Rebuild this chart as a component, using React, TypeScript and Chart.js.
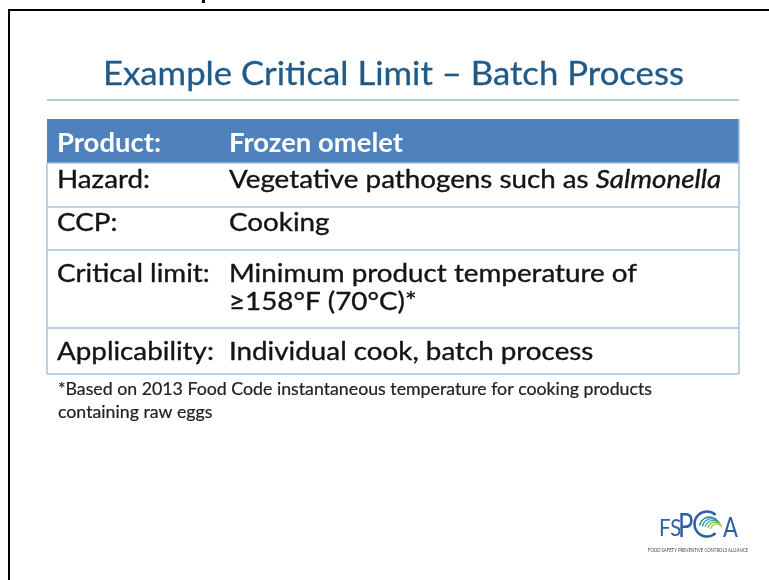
import React, { useEffect, useRef } from "react";
import { Chart, registerables } from "chart.js";

Chart.register(...registerables);

type Seg = { t: string; i?: boolean };

// ---- content ----
const TITLE = "Example Critical Limit – Batch Process";
const HEADER_LABEL = "Product:";
const HEADER_VALUE = "Frozen omelet";
const ROW_LABELS = ["Hazard:", "CCP:", "Critical limit:", "Applicability:"];
const ROW_VALUES: Seg[][][] = [
  [[{ t: "Vegetative pathogens such as " }, { t: "Salmonella", i: true }]],
  [[{ t: "Cooking" }]],
  [[{ t: "Minimum product temperature of" }], [{ t: "≥158°F (70°C)*" }]],
  [[{ t: "Individual cook, batch process" }]],
];
const FOOTNOTE = [
  "*Based on 2013 Food Code instantaneous temperature for cooking products",
  "containing raw eggs",
];
const LOGO_LEFT = "FS";
const LOGO_P = "P";
const LOGO_RIGHT = "A";
const LOGO_TAGLINE = "FOOD SAFETY PREVENTIVE CONTROLS ALLIANCE";

// ---- layout & style ----
const FAMILY = "Lato, 'Open Sans', 'DejaVu Sans', sans-serif";
const W = 769;
const H = 580;
const LAYOUT = {
  titleX: 103,
  titleBase: 85,
  titleW: 581,
  titleSize: 32,
  ruleY: 100,
  tableLeft: 47,
  tableRight: 739,
  labelX: 57,
  valueX: 229,
  rowEdges: [119, 163, 207, 250, 328, 374],
  rowBaselines: [[152], [188], [231], [282, 310], [360]],
  bodySize: 25,
  headSize: 26,
  bodyRefW: 408,
  headRefW: 174,
  footX: 58,
  footBases: [395, 418],
  footW: 594,
  footSize: 17,
};
const COLORS = {
  title: "#1f5a88",
  rule: "#9db7cc",
  header: "#4f81bd",
  border: "#a9c1df",
  text: "#141414",
  foot: "#222222",
  logo: "#2d5fa3",
};

function font(size: number, bold = false, italic = false) {
  return `${italic ? "italic " : ""}${bold ? "bold " : ""}${size}px ${FAMILY}`;
}

function segWidth(ctx: CanvasRenderingContext2D, segs: Seg[], size: number, bold: boolean) {
  let w = 0;
  for (const s of segs) {
    ctx.font = font(size, bold, !!s.i);
    w += ctx.measureText(s.t).width;
  }
  return w;
}

function drawSegs(
  ctx: CanvasRenderingContext2D,
  segs: Seg[],
  x: number,
  y: number,
  size: number,
  bold: boolean,
  sx: number,
  color: string,
  thicken = 0
) {
  let cx = x;
  for (const s of segs) {
    ctx.font = font(size, bold, !!s.i);
    const w = ctx.measureText(s.t).width;
    ctx.save();
    ctx.translate(cx, y);
    ctx.scale(sx, 1);
    ctx.fillStyle = color;
    ctx.textBaseline = "alphabetic";
    ctx.textAlign = "left";
    ctx.fillText(s.t, 0, 0);
    if (thicken > 0) {
      ctx.strokeStyle = color;
      ctx.lineWidth = thicken;
      ctx.lineJoin = "round";
      ctx.strokeText(s.t, 0, 0);
    }
    ctx.restore();
    cx += w * sx;
  }
}

const slidePlugin = {
  id: "slide",
  beforeDraw(chart: Chart) {
    const ctx = chart.ctx;
    ctx.save();
    ctx.fillStyle = "#ffffff";
    ctx.fillRect(0, 0, chart.width, chart.height);
    ctx.restore();
  },
  afterDraw(chart: Chart) {
    const ctx = chart.ctx;
    const L = LAYOUT;
    ctx.save();

    // frame
    ctx.strokeStyle = "#000";
    ctx.lineWidth = 2;
    ctx.beginPath();
    ctx.moveTo(9, H);
    ctx.lineTo(9, 10);
    ctx.lineTo(W, 10);
    ctx.stroke();
    ctx.fillStyle = "#000";
    ctx.fillRect(202, 0, 3, 3);

    // title
    const tSeg = [{ t: TITLE }];
    const tW = segWidth(ctx, tSeg, L.titleSize, false);
    drawSegs(ctx, tSeg, L.titleX, L.titleBase, L.titleSize, false, L.titleW / tW, COLORS.title, 0.3);

    // rule
    ctx.strokeStyle = COLORS.rule;
    ctx.lineWidth = 1.5;
    ctx.beginPath();
    ctx.moveTo(L.tableLeft, L.ruleY);
    ctx.lineTo(L.tableRight, L.ruleY);
    ctx.stroke();

    // header row
    const e = L.rowEdges;
    ctx.fillStyle = COLORS.header;
    ctx.fillRect(L.tableLeft, e[0], L.tableRight - L.tableLeft, e[1] - e[0]);
    const hW = segWidth(ctx, [{ t: HEADER_VALUE }], L.headSize, true);
    const hsx = L.headRefW / hW;
    drawSegs(ctx, [{ t: HEADER_LABEL }], L.labelX, L.rowBaselines[0][0], L.headSize, true, hsx, "#ffffff");
    drawSegs(ctx, [{ t: HEADER_VALUE }], L.valueX, L.rowBaselines[0][0], L.headSize, true, hsx, "#ffffff");

    // body rows
    const bW = segWidth(ctx, ROW_VALUES[2][0], L.bodySize, false);
    const bsx = L.bodyRefW / bW;
    ROW_LABELS.forEach((label, r) => {
      const bases = L.rowBaselines[r + 1];
      drawSegs(ctx, [{ t: label }], L.labelX, bases[0], L.bodySize, false, bsx, COLORS.text, 0.35);
      ROW_VALUES[r].forEach((line, li) => {
        drawSegs(ctx, line, L.valueX, bases[li], L.bodySize, false, bsx, COLORS.text, 0.35);
      });
    });

    // borders
    ctx.strokeStyle = COLORS.border;
    ctx.lineWidth = 1.5;
    ctx.beginPath();
    for (let k = 1; k < e.length; k++) {
      ctx.moveTo(L.tableLeft, e[k]);
      ctx.lineTo(L.tableRight, e[k]);
    }
    ctx.moveTo(L.tableLeft, e[1]);
    ctx.lineTo(L.tableLeft, e[e.length - 1]);
    ctx.moveTo(L.tableRight, e[0]);
    ctx.lineTo(L.tableRight, e[e.length - 1]);
    ctx.stroke();

    // footnote
    const fW = segWidth(ctx, [{ t: FOOTNOTE[0] }], L.footSize, false);
    const fsx = L.footW / fW;
    FOOTNOTE.forEach((line, i) => {
      drawSegs(ctx, [{ t: line }], L.footX, L.footBases[i], L.footSize, false, fsx, COLORS.foot, 0.2);
    });

    // logo
    drawSegs(ctx, [{ t: LOGO_LEFT }], 659, 536, 24, false, 0.85, COLORS.logo);
    drawSegs(ctx, [{ t: LOGO_P }], 678, 537, 32, false, 0.8, COLORS.logo);
    const cx = 707, cy = 524;
    ctx.lineCap = "butt";
    ctx.strokeStyle = COLORS.logo;
    ctx.lineWidth = 2.6;
    ctx.beginPath();
    ctx.arc(cx, cy, 12.5, 0.26 * Math.PI, 1.74 * Math.PI);
    ctx.stroke();
    const greens = ["#1c7fb5", "#1f9aa8", "#3aae8c", "#6cbf5a", "#a5d040"];
    greens.forEach((c, i) => {
      ctx.strokeStyle = c;
      ctx.lineWidth = 1.3;
      ctx.beginPath();
      ctx.arc(cx + 2.5 + i * 1.8, cy + 3 + i * 0.7, 10 - i * 1.0, 1.05 * Math.PI, 1.85 * Math.PI);
      ctx.stroke();
    });
    drawSegs(ctx, [{ t: LOGO_RIGHT }], 723, 537, 26, false, 0.85, COLORS.logo);
    const tagSeg = [{ t: LOGO_TAGLINE }];
    const tgW = segWidth(ctx, tagSeg, 5, false);
    drawSegs(ctx, tagSeg, 648, 552, 5, false, 100 / tgW, "#444444");

    ctx.restore();
  },
};

export default function App() {
  const ref = useRef<HTMLCanvasElement | null>(null);
  useEffect(() => {
    document.body.style.margin = "0";
    document.body.style.background = "#ffffff";
    if (!ref.current) return;
    const chart = new Chart(ref.current, {
      type: "scatter",
      data: { datasets: [] },
      options: {
        responsive: false,
        animation: false,
        events: [],
        layout: { padding: 0 },
        plugins: { legend: { display: false }, tooltip: { enabled: false }, title: { display: false } },
        scales: { x: { display: false }, y: { display: false } },
      },
      plugins: [slidePlugin],
    });
    let alive = true;
    if (document.fonts && document.fonts.load) {
      Promise.all([
        document.fonts.load(`25px Lato`),
        document.fonts.load(`bold 26px Lato`),
        document.fonts.load(`italic 25px Lato`),
      ]).then(() => {
        if (alive) chart.draw();
      }).catch(() => {});
    }
    return () => {
      alive = false;
      chart.destroy();
    };
  }, []);
  return (
    <div style={{ width: W, height: H, position: "absolute", left: 0, top: 0 }}>
      <canvas ref={ref} width={W} height={H} style={{ display: "block", width: W, height: H }} />
    </div>
  );
}
